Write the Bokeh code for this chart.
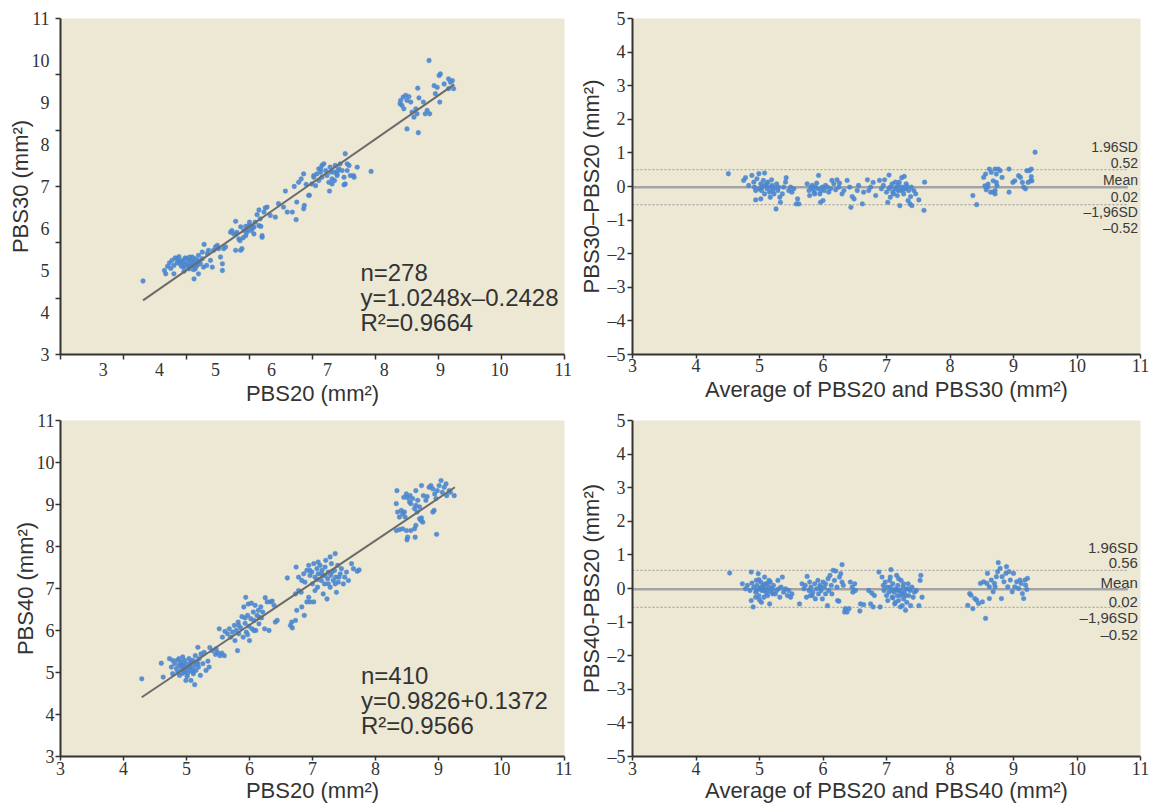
from bokeh.plotting import figure
from bokeh.layouts import column, row
from bokeh.models import FixedTicker, Label
from bokeh.embed import file_html
from bokeh.resources import INLINE

# ---------------- data ----------------
x_ticks = [3, 4, 5, 6, 7, 8, 9, 10, 11]
ba_y_ticks = [-5, -4, -3, -2, -1, 0, 1, 2, 3, 4, 5]
# top-left panel: the printed x labels sit off the tick marks in the reference
tl_xlabel_pos = [3.68, 4.57, 5.46, 6.35, 7.24, 8.14, 9.03, 9.97, 10.98]
tl_xlabel_txt = ["3", "4", "5", "6", "7", "8", "9", "10", "11"]
tl_ytick_marks = [3, 4.333, 5.667, 7, 8.333, 9.667, 11]

# PBS20 vs PBS30 scatter (x=PBS20, y=PBS30)
tl_c1 = [(4.31, 4.75), (4.65, 5.00), (4.67, 4.92), (4.77, 5.24), (4.80, 5.12), (4.85, 5.28), (4.88, 5.33),
         (4.90, 5.16), (4.93, 5.24), (4.96, 5.08), (4.98, 5.30), (5.01, 5.16), (5.04, 5.24), (5.06, 5.12),
         (5.09, 5.32), (5.12, 5.20), (5.14, 5.04), (5.17, 5.24), (5.19, 5.36), (5.22, 5.16), (5.25, 5.28),
         (5.27, 5.08), (5.28, 5.62), (5.32, 5.12), (5.35, 5.48), (5.38, 5.24), (5.41, 5.08), (5.43, 5.48),
         (5.46, 5.56), (5.49, 5.60), (5.51, 5.52), (5.54, 5.32), (5.57, 5.16), (5.57, 5.00), (5.59, 5.52),
         (5.62, 5.56), (5.12, 4.80), (5.19, 4.92), (4.80, 4.92), (4.96, 4.98), (5.04, 5.04), (5.17, 5.12),
         (5.33, 5.40), (5.25, 5.44), (5.09, 5.12), (4.70, 5.10), (4.75, 5.05), (4.85, 5.18), (4.92, 5.10),
         (4.95, 5.20), (5.00, 5.28), (5.03, 5.10), (5.08, 5.22), (5.10, 5.15), (5.13, 5.28), (4.88, 5.22),
         (4.98, 5.14), (5.05, 5.32), (4.82, 5.30), (5.15, 5.12), (4.73, 5.18), (5.11, 5.02), (5.20, 5.22)]
tl_c2 = [(5.70, 5.91), (5.72, 5.95), (5.75, 5.87), (5.78, 6.17), (5.80, 5.91), (5.83, 5.75), (5.86, 6.04),
         (5.86, 5.48), (5.88, 5.52), (5.91, 5.95), (5.94, 6.05), (5.96, 5.91), (5.99, 6.07), (6.00, 6.15),
         (6.03, 5.95), (6.04, 6.02), (6.07, 5.87), (6.09, 6.15), (6.12, 6.33), (6.15, 6.07), (6.17, 6.23),
         (6.20, 5.83), (6.20, 5.79), (6.23, 6.39), (6.25, 6.49), (6.28, 6.51), (6.15, 6.44), (6.33, 6.31),
         (6.41, 6.27), (5.78, 5.48), (5.85, 5.71), (5.94, 5.83), (5.97, 5.97), (6.07, 6.03), (6.18, 6.05),
         (5.79, 5.87), (5.90, 5.78)]
tl_mid = [(6.57, 6.89), (6.60, 6.39), (6.74, 6.21), (6.68, 6.39), (6.71, 7.00), (6.86, 6.47), (6.86, 7.30),
          (6.78, 7.10), (6.46, 6.59), (6.54, 6.51), (6.75, 6.63), (6.95, 6.79), (6.82, 7.18), (6.90, 7.05),
          (6.87, 6.55), (6.94, 6.79)]
tl_c3 = [(6.99, 7.06), (7.02, 7.22), (7.07, 7.30), (7.10, 7.42), (7.15, 7.50), (7.18, 7.54), (7.21, 7.38),
         (7.23, 7.26), (7.28, 7.46), (7.31, 7.18), (7.34, 7.34), (7.36, 7.50), (7.39, 7.26), (7.42, 7.42),
         (7.44, 7.54), (7.50, 7.22), (7.52, 7.06), (7.55, 7.38), (7.58, 7.50), (7.60, 7.26), (7.27, 6.89),
         (7.31, 7.06), (7.10, 7.14), (7.05, 7.02), (7.15, 7.22), (7.26, 7.10), (7.47, 7.38), (7.13, 7.34),
         (7.35, 7.14), (7.40, 7.38), (7.71, 7.46), (7.65, 7.26), (7.52, 7.78), (7.66, 7.22), (7.50, 7.04),
         (7.02, 7.26), (7.13, 7.42), (7.29, 7.34), (7.39, 7.30), (7.55, 7.54), (7.93, 7.36)]
tl_c4 = [(8.85, 10.00), (9.01, 9.64), (9.03, 9.68), (8.93, 9.40), (8.98, 9.36), (9.09, 9.44), (9.16, 9.56),
         (9.19, 9.48), (9.22, 9.52), (9.24, 9.33), (9.16, 9.33), (8.95, 9.21), (9.02, 9.01), (8.67, 9.34),
         (8.69, 9.11), (8.76, 9.01), (8.82, 8.81), (8.86, 8.73), (8.79, 8.73), (8.66, 8.73), (8.61, 8.65),
         (8.58, 8.77), (8.64, 8.85), (8.40, 9.05), (8.42, 8.93), (8.45, 8.85), (8.39, 8.97), (8.48, 9.17),
         (8.53, 9.14), (8.50, 9.05), (8.56, 9.01), (8.44, 9.13), (8.50, 8.37), (8.68, 8.28)]
tl_fit_x = [4.31, 9.25]
tl_fit_y = [4.29, 9.43]

# Bland-Altman PBS30-PBS20 (x=average, y=difference)
tr_c1 = [(4.51, 0.38), (4.75, 0.18), (4.78, 0.26), (4.83, 0.03), (4.88, 0.33), (4.91, 0.13), (4.94, -0.12),
         (4.94, -0.40), (4.96, 0.23), (4.99, 0.38), (5.02, 0.08), (5.04, -0.02), (5.06, 0.18), (5.08, 0.40),
         (5.09, 0.03), (5.12, -0.07), (5.13, 0.13), (5.16, -0.17), (5.17, -0.02), (5.19, 0.20), (5.20, 0.03),
         (5.23, -0.22), (5.24, -0.04), (5.26, -0.67), (5.27, 0.08), (5.29, -0.12), (5.30, -0.02), (5.33, -0.47),
         (5.36, -0.22), (5.38, -0.02), (5.42, 0.26), (5.46, -0.12), (5.49, -0.02), (5.51, -0.17), (5.54, -0.07),
         (5.60, -0.37), (5.62, -0.52), (5.58, -0.52), (5.02, -0.37), (5.17, -0.32), (4.99, -0.07), (5.11, 0.06),
         (5.03, -0.12), (5.21, -0.12), (5.08, -0.22), (4.92, -0.02), (5.32, -0.32), (5.41, 0.13)]
tr_c2 = [(5.75, 0.08), (5.78, -0.12), (5.79, -0.27), (5.81, -0.02), (5.83, 0.03), (5.86, -0.17), (5.88, -0.02),
         (5.90, 0.10), (5.92, -0.07), (5.93, 0.33), (5.95, -0.22), (5.96, -0.47), (5.99, -0.02), (6.00, -0.42),
         (6.02, -0.12), (6.04, 0.03), (6.07, -0.02), (6.09, -0.17), (6.12, -0.07), (6.14, 0.18), (6.17, 0.08),
         (6.20, -0.10), (6.22, 0.20), (6.25, -0.02), (6.26, 0.10), (6.30, -0.22), (6.33, -0.12), (5.84, -0.07),
         (5.97, -0.12), (5.87, -0.22)]
tr_mid = [(6.38, 0.18), (6.42, -0.02), (6.44, -0.62), (6.46, -0.30), (6.49, -0.37), (6.56, 0.03), (6.62, -0.52),
          (6.64, -0.17), (6.70, 0.20), (6.72, -0.12), (6.79, 0.12), (6.83, -0.27), (6.75, -0.02), (6.54, -0.12)]
tr_c3 = [(6.89, 0.18), (6.92, -0.07), (6.95, 0.03), (6.97, 0.20), (7.00, -0.17), (7.02, -0.47), (7.04, 0.34),
         (7.06, -0.02), (7.09, 0.08), (7.10, -0.17), (7.13, -0.07), (7.14, 0.13), (7.16, -0.02), (7.17, -0.27),
         (7.19, 0.03), (7.21, -0.57), (7.22, -0.12), (7.24, 0.26), (7.25, -0.02), (7.27, -0.22), (7.28, 0.30),
         (7.30, -0.07), (7.31, 0.08), (7.34, -0.42), (7.35, -0.12), (7.37, -0.52), (7.39, -0.02), (7.40, -0.57),
         (7.43, -0.12), (7.46, -0.22), (7.51, -0.40), (7.59, -0.71), (7.60, 0.13), (7.18, -0.12), (7.26, -0.10),
         (7.32, 0.00), (7.11, -0.22), (7.20, 0.13), (7.38, -0.30), (7.06, -0.32), (7.04, -0.07)]
tr_c4 = [(8.36, -0.27), (8.42, -0.54), (8.53, 0.27), (8.56, 0.37), (8.59, -0.02), (8.57, -0.10), (8.62, 0.52),
         (8.65, 0.42), (8.68, 0.17), (8.64, -0.17), (8.71, -0.12), (8.71, 0.52), (8.73, 0.37), (8.76, 0.52),
         (8.71, -0.22), (8.74, 0.02), (8.79, 0.47), (8.82, 0.27), (8.73, 0.12), (8.68, -0.17), (8.93, 0.52),
         (8.93, -0.17), (8.99, 0.12), (9.02, 0.17), (9.08, 0.32), (9.11, 0.27), (9.14, 0.12), (9.16, -0.02),
         (9.19, -0.07), (9.21, 0.47), (9.23, 0.12), (9.25, 0.47), (9.27, 0.17), (9.28, 0.52), (9.28, 0.29),
         (9.29, 0.17), (9.34, 1.02), (8.55, 0.02), (8.60, 0.07)]
tr_limits = [0.50, -0.02, -0.54]   # +1.96SD, mean, -1.96SD as drawn
ba_line_x = [3.0, 10.8]
tr_texts = ["1.96SD", "0.52", "Mean", "0.02", "\u20131,96SD", "\u20130.52"]

# PBS20 vs PBS40 scatter (x=PBS20, y=PBS40)
bl_c1 = [(4.29, 4.85), (4.60, 5.22), (4.63, 4.89), (4.73, 5.33), (4.76, 5.13), (4.78, 5.29), (4.78, 4.97),
         (4.81, 5.21), (4.84, 5.09), (4.85, 5.29), (4.86, 5.01), (4.88, 5.17), (4.89, 4.93), (4.91, 5.25),
         (4.92, 5.09), (4.93, 5.19), (4.94, 4.98), (4.96, 5.13), (4.97, 5.29), (4.98, 5.05), (4.99, 5.21),
         (5.01, 4.91), (5.02, 5.13), (5.04, 5.33), (5.05, 5.05), (5.06, 5.21), (5.07, 4.81), (5.09, 5.09),
         (5.10, 5.29), (5.11, 4.97), (5.13, 5.17), (5.13, 4.71), (5.14, 5.40), (5.15, 5.05), (5.16, 5.25),
         (5.18, 5.60), (5.19, 5.13), (5.20, 5.33), (5.22, 4.93), (5.23, 5.44), (5.26, 5.21), (5.28, 5.48),
         (5.31, 5.05), (5.34, 5.27), (5.36, 5.13), (4.99, 4.81), (4.88, 5.33), (4.94, 5.37), (5.07, 5.25),
         (4.97, 5.01), (5.10, 5.01), (5.02, 4.98), (5.18, 5.21), (4.92, 5.17), (5.05, 5.13)]
bl_link = [(5.41, 5.52), (5.46, 5.43), (5.49, 5.48), (5.53, 5.40), (5.56, 5.46), (5.60, 5.40), (5.52, 6.04),
           (5.47, 5.56), (5.37, 5.59)]
bl_c2 = [(5.57, 5.84), (5.61, 5.98), (5.65, 5.92), (5.68, 6.04), (5.70, 5.84), (5.73, 5.96), (5.76, 6.12),
         (5.77, 5.76), (5.79, 6.00), (5.81, 5.52), (5.82, 6.20), (5.83, 5.92), (5.86, 6.06), (5.88, 6.33),
         (5.90, 5.84), (5.91, 6.56), (5.93, 6.17), (5.95, 5.96), (5.97, 6.36), (5.98, 6.63), (5.99, 6.10),
         (6.00, 5.76), (6.02, 6.28), (6.03, 6.65), (6.04, 6.04), (6.06, 6.44), (6.07, 6.24), (6.09, 6.60),
         (6.10, 6.00), (6.12, 6.36), (6.14, 6.48), (6.15, 6.16), (6.18, 6.56), (6.19, 6.30), (6.21, 6.44),
         (6.24, 6.04), (6.25, 6.78), (6.28, 6.68), (6.31, 6.00), (6.33, 6.68), (6.36, 6.70), (6.39, 6.60),
         (6.41, 6.20), (6.44, 6.24), (5.94, 6.79), (5.93, 6.30), (5.83, 6.12), (6.07, 6.00), (5.97, 5.90),
         (6.15, 6.32)]
bl_mid = [(6.60, 7.25), (6.65, 6.12), (6.67, 6.20), (6.68, 6.06), (6.73, 6.24), (6.75, 6.48), (6.78, 6.95),
          (6.83, 6.56), (6.87, 6.36), (6.91, 6.68), (6.96, 6.68), (7.02, 6.68), (6.73, 6.87), (6.82, 6.91)]
bl_c3 = [(6.74, 7.51), (6.78, 7.27), (6.83, 7.19), (6.86, 7.35), (6.88, 7.15), (6.91, 7.43), (6.94, 7.55),
         (6.96, 7.31), (6.99, 7.39), (7.00, 7.11), (7.02, 7.59), (7.04, 7.27), (7.07, 7.47), (7.08, 7.03),
         (7.09, 7.35), (7.12, 7.55), (7.14, 7.19), (7.15, 7.43), (7.17, 7.31), (7.19, 7.11), (7.20, 7.51),
         (7.23, 6.75), (7.24, 7.23), (7.25, 7.39), (7.28, 7.03), (7.29, 7.31), (7.30, 7.59), (7.33, 7.19),
         (7.35, 7.43), (7.36, 7.83), (7.37, 7.27), (7.38, 6.91), (7.40, 7.55), (7.41, 7.15), (7.44, 7.35),
         (7.46, 7.47), (7.49, 7.11), (7.51, 7.27), (7.54, 7.39), (7.57, 7.19), (7.62, 7.59), (7.65, 7.47),
         (7.71, 7.41), (7.74, 7.44), (7.17, 6.87), (7.04, 6.95), (6.94, 6.79), (7.09, 7.63), (7.21, 7.67),
         (7.28, 7.75), (6.96, 7.43), (7.14, 7.35), (7.25, 7.11), (7.31, 7.39), (7.42, 7.27), (7.20, 7.31),
         (7.07, 7.21), (7.36, 7.11)]
bl_c4 = [(8.34, 9.33), (8.33, 9.02), (8.35, 8.82), (8.38, 8.70), (8.41, 8.86), (8.43, 8.78), (8.46, 8.82),
         (8.47, 8.70), (8.33, 8.38), (8.38, 8.40), (8.43, 8.42), (8.49, 8.38), (8.51, 8.22), (8.50, 8.16),
         (8.56, 8.38), (8.63, 8.22), (8.62, 8.42), (8.64, 8.50), (8.45, 9.17), (8.49, 9.25), (8.51, 9.16),
         (8.54, 9.06), (8.55, 9.21), (8.56, 9.02), (8.59, 9.14), (8.62, 8.90), (8.64, 8.98), (8.66, 8.82),
         (8.67, 9.10), (8.70, 8.66), (8.72, 8.62), (8.73, 8.68), (8.75, 8.58), (8.64, 9.33), (8.73, 9.45),
         (8.82, 9.19), (8.85, 9.41), (8.88, 9.45), (8.91, 9.37), (8.91, 8.82), (8.93, 8.86), (8.94, 9.25),
         (8.97, 8.29), (8.98, 9.33), (9.01, 9.45), (9.04, 9.57), (9.06, 9.29), (9.09, 9.41), (9.12, 9.49),
         (9.13, 9.21), (9.17, 9.33), (9.19, 9.29), (9.25, 9.21), (8.96, 9.14), (8.80, 9.10), (8.70, 8.94),
         (8.76, 9.21)]
bl_fit_x = [4.29, 9.26]
bl_fit_y = [4.41, 9.41]

# Bland-Altman PBS40-PBS20 (x=average, y=difference)
br_c1 = [(4.53, 0.46), (4.73, 0.14), (4.78, -0.01), (4.81, 0.09), (4.85, -0.06), (4.87, 0.49), (4.87, -0.36),
         (4.88, 0.16), (4.90, -0.55), (4.91, 0.04), (4.94, -0.11), (4.95, 0.24), (4.96, 0.09), (4.98, 0.44),
         (4.99, -0.21), (5.00, -0.01), (5.02, 0.19), (5.03, -0.41), (5.04, -0.06), (5.06, 0.09), (5.07, -0.26),
         (5.08, 0.34), (5.09, -0.01), (5.11, -0.14), (5.12, 0.14), (5.14, -0.06), (5.15, 0.04), (5.16, -0.46),
         (5.17, 0.19), (5.19, -0.11), (5.20, -0.01), (5.22, 0.09), (5.25, -0.16), (5.27, -0.06), (5.29, 0.24),
         (5.30, -0.01), (5.32, -0.26), (5.34, 0.04), (5.36, 0.34), (5.38, -0.11), (5.41, -0.01), (5.44, -0.21),
         (5.46, -0.06), (5.49, -0.26), (5.51, -0.16), (5.03, 0.04), (5.09, 0.14), (4.96, -0.06), (5.13, -0.21),
         (4.99, 0.26), (5.21, -0.16), (5.07, -0.06), (5.15, 0.24), (4.94, -0.26), (5.00, -0.34)]
br_c2 = [(5.63, -0.46), (5.67, 0.14), (5.70, -0.01), (5.72, 0.09), (5.74, -0.26), (5.75, 0.36), (5.78, -0.06),
         (5.79, 0.19), (5.81, 0.04), (5.83, -0.21), (5.84, -0.11), (5.87, 0.14), (5.88, -0.31), (5.90, -0.01),
         (5.92, 0.24), (5.93, -0.16), (5.95, 0.09), (5.97, -0.06), (5.99, -0.31), (6.00, 0.19), (6.02, 0.04),
         (6.04, -0.16), (6.07, -0.51), (6.08, 0.29), (6.09, -0.06), (6.11, 0.39), (6.13, 0.09), (6.14, -0.16),
         (6.16, 0.54), (6.18, 0.24), (6.20, 0.52), (6.22, 0.04), (6.23, -0.36), (6.25, -0.38), (6.26, 0.34),
         (6.28, 0.44), (6.30, 0.71), (6.30, 0.19), (6.32, 0.09), (6.34, -0.70), (6.35, -0.60), (6.38, -0.70),
         (6.41, -0.60), (6.43, 0.19), (6.46, 0.04), (6.47, -0.11), (6.50, 0.14), (6.51, -0.06), (5.80, -0.21),
         (5.96, 0.04), (6.04, 0.14)]
br_mid = [(6.58, -0.67), (6.59, -0.46), (6.64, -0.48), (6.72, -0.06), (6.75, -0.46), (6.79, -0.55),
          (6.77, -0.14), (6.81, -0.21), (6.88, 0.49), (6.90, -0.55)]
br_c3 = [(6.93, 0.34), (6.95, 0.09), (6.96, -0.06), (6.98, 0.19), (7.00, -0.21), (7.01, 0.04), (7.02, -0.36),
         (7.04, -0.11), (7.05, 0.24), (7.06, 0.04), (7.07, 0.56), (7.09, -0.26), (7.10, 0.14), (7.12, -0.11),
         (7.13, -0.46), (7.14, -0.01), (7.16, 0.39), (7.17, -0.21), (7.18, 0.09), (7.19, -0.36), (7.21, -0.06),
         (7.22, -0.55), (7.23, 0.24), (7.25, -0.16), (7.26, 0.04), (7.27, -0.31), (7.28, -0.11), (7.30, -0.65),
         (7.31, -0.01), (7.32, -0.41), (7.34, 0.14), (7.35, -0.21), (7.37, -0.06), (7.38, -0.51), (7.40, 0.04),
         (7.42, -0.26), (7.44, -0.11), (7.47, -0.06), (7.51, -0.51), (7.53, 0.24), (7.54, 0.39), (7.56, -0.26),
         (7.10, -0.28), (7.17, -0.04), (7.22, -0.21), (7.27, 0.14), (7.19, -0.06), (7.30, -0.21), (7.14, -0.41),
         (7.25, -0.51), (7.06, 0.34), (7.35, -0.01), (7.19, 0.29), (7.09, -0.06)]
br_c4 = [(8.28, -0.50), (8.31, -0.15), (8.33, -0.20), (8.36, -0.60), (8.39, -0.30), (8.42, -0.35), (8.45, -0.45),
         (8.48, 0.15), (8.51, -0.40), (8.53, 0.20), (8.56, -0.89), (8.58, 0.15), (8.59, 0.45), (8.62, -0.30),
         (8.65, 0.25), (8.68, -0.10), (8.71, 0.05), (8.73, 0.35), (8.75, 0.50), (8.76, 0.77), (8.79, 0.60),
         (8.81, -0.30), (8.82, 0.35), (8.85, 0.20), (8.88, 0.45), (8.91, 0.05), (8.93, 0.50), (8.95, 0.25),
         (8.98, -0.10), (9.00, 0.45), (9.02, 0.05), (9.05, 0.20), (9.08, 0.00), (9.10, 0.25), (9.12, 0.15),
         (9.14, -0.15), (9.16, -0.30), (9.18, 0.25), (9.19, 0.10), (9.22, 0.30), (9.21, -0.03), (8.62, 0.05),
         (8.70, 0.15), (8.89, 0.65)]
br_limits = [0.54, -0.02, -0.56]
br_texts = ["1.96SD", "0.56", "Mean", "0.02", "\u20131,96SD", "\u20130.52"]

# ---------------- style ----------------
BG = "#ECE8D4"
PT = "#4A86CF"
AX = "#333333"
TICK_FONT = "Liberation Sans Narrow"
LAB_FONT = "Liberation Sans"


def dash_label(v):
    return "\u2013%d" % (-v) if v < 0 else str(v)


def base(fw, yr, bl, br, bt, bb, xlab, ylab):
    p = figure(frame_width=fw, frame_height=336, x_range=(3, 11), y_range=yr,
               output_backend="svg", toolbar_location=None,
               min_border_left=bl, min_border_right=br,
               min_border_top=bt, min_border_bottom=bb)
    p.background_fill_color = BG
    p.border_fill_color = "white"
    p.outline_line_color = None
    p.grid.visible = False
    p.xaxis.axis_label = xlab
    p.yaxis.axis_label = ylab
    for ax in p.axis:
        ax.axis_line_color = AX
        ax.axis_line_width = 2
        ax.major_tick_line_color = AX
        ax.major_tick_line_width = 1.5
        ax.minor_tick_line_color = AX
        ax.minor_tick_line_width = 1.5
        ax.major_tick_in = 0
        ax.minor_tick_in = 0
        ax.major_tick_out = 5
        ax.minor_tick_out = 0
        ax.major_label_text_font = TICK_FONT
        ax.major_label_text_font_size = "18px"
        ax.major_label_text_color = AX
        ax.axis_label_text_font = LAB_FONT
        ax.axis_label_text_font_size = "22px"
        ax.axis_label_text_font_style = "normal"
        ax.axis_label_text_color = AX
    p.xaxis.major_label_standoff = 2
    p.yaxis.major_label_standoff = 2
    p.xaxis.axis_label_standoff = 2
    p.yaxis.axis_label_standoff = 1
    return p


def pts(p, *groups):
    xs, ys = [], []
    for g in groups:
        xs += [a for a, b in g]
        ys += [b for a, b in g]
    p.scatter(xs, ys, size=4.8, fill_color=PT, line_color=PT, line_width=0.5, fill_alpha=0.9, line_alpha=0.6)


def ba_lines(p, limits):
    up, mean, lo = limits
    p.line(ba_line_x, [mean, mean], line_color="#A3A3A3", line_width=2.5)
    for v in (up, lo):
        p.line(ba_line_x, [v, v], line_color="#A8A8A8", line_width=1.2, line_dash="2 2")


def ba_texts(p, texts, ys, size):
    for t, yy in zip(texts, ys):
        p.add_layout(Label(x=10.96, y=yy, text=t, text_align="right", text_baseline="middle",
                           text_font=LAB_FONT, text_font_size=size, text_color="#3a3a3a"))


def fit_texts(p, x0, texts, ys):
    for t, yy in zip(texts, ys):
        p.add_layout(Label(x=x0, y=yy, text=t, text_align="left", text_baseline="middle",
                           text_font=LAB_FONT, text_font_size="24px", text_color="#333333"))


# ---- top-left ----
p1 = base(504, (3, 11), 60, 8, 18, 55, "PBS20 (mm\u00b2)", "PBS30 (mm\u00b2)")
p1.xaxis.ticker = FixedTicker(ticks=tl_xlabel_pos, minor_ticks=x_ticks)
p1.xaxis.major_label_overrides = dict(zip(tl_xlabel_pos, tl_xlabel_txt))
p1.xaxis.major_tick_out = 0
p1.xaxis.minor_tick_out = 5
p1.xaxis.major_label_standoff = 3
p1.yaxis.ticker = FixedTicker(ticks=x_ticks, minor_ticks=tl_ytick_marks)
p1.yaxis.major_tick_out = 0
p1.yaxis.minor_tick_out = 5
p1.yaxis.major_label_standoff = 6
p1.yaxis.axis_label_standoff = -4
pts(p1, tl_c1, tl_c2, tl_mid, tl_c3, tl_c4)
p1.line(tl_fit_x, tl_fit_y, line_color="#6A6A6A", line_width=2)
fit_texts(p1, 7.76, ["n=278", "y=1.0248x\u20130.2428", "R\u00b2=0.9664"], [4.95, 4.36, 3.77])

# ---- top-right ----
p2 = base(508, (-5, 5), 60, 10, 18, 55, "Average of PBS20 and PBS30 (mm\u00b2)",
          "PBS30\u2013PBS20 (mm\u00b2)")
p2.xaxis.ticker = FixedTicker(ticks=x_ticks)
p2.yaxis.ticker = FixedTicker(ticks=ba_y_ticks)
p2.yaxis.major_label_overrides = {v: dash_label(v) for v in ba_y_ticks}
p2.xaxis.major_tick_out = 4
p2.xaxis.major_label_standoff = 0
ba_lines(p2, tr_limits)
pts(p2, tr_c1, tr_c2, tr_mid, tr_c3, tr_c4)
ba_texts(p2, tr_texts, [1.17, 0.69, 0.18, -0.32, -0.77, -1.24], "14px")

# ---- bottom-left ----
p3 = base(504, (3, 11), 60, 8, 11, 40, "PBS20 (mm\u00b2)", "PBS40 (mm\u00b2)")
p3.xaxis.ticker = FixedTicker(ticks=x_ticks)
p3.yaxis.ticker = FixedTicker(ticks=x_ticks)
p3.xaxis.major_tick_out = 4
p3.xaxis.major_label_standoff = 1
p3.xaxis.axis_label_standoff = 0
p3.yaxis.major_label_standoff = 1
p3.yaxis.axis_label_standoff = -4
pts(p3, bl_c1, bl_link, bl_c2, bl_mid, bl_c3, bl_c4)
p3.line(bl_fit_x, bl_fit_y, line_color="#6A6A6A", line_width=2)
fit_texts(p3, 7.77, ["n=410", "y=0.9826+0.1372", "R\u00b2=0.9566"], [4.93, 4.33, 3.74])

# ---- bottom-right ----
p4 = base(508, (-5, 5), 60, 10, 11, 40, "Average of PBS20 and PBS40 (mm\u00b2)",
          "PBS40-PBS20 (mm\u00b2)")
p4.xaxis.ticker = FixedTicker(ticks=x_ticks)
p4.yaxis.ticker = FixedTicker(ticks=ba_y_ticks)
p4.yaxis.major_label_overrides = {v: dash_label(v) for v in ba_y_ticks}
p4.xaxis.major_tick_out = 4
p4.xaxis.major_label_standoff = 1
p4.xaxis.axis_label_standoff = 0
ba_lines(p4, br_limits)
pts(p4, br_c1, br_c2, br_mid, br_c3, br_c4)
ba_texts(p4, br_texts, [1.23, 0.77, 0.19, -0.39, -0.87, -1.37], "15px")

layout = column(row(p1, p2), row(p3, p4))
html = file_html(layout, INLINE, "PBS agreement")
html = html.replace("</head>", "<style>html,body{overflow:hidden;}</style></head>", 1)
open("out.html", "w").write(html)
